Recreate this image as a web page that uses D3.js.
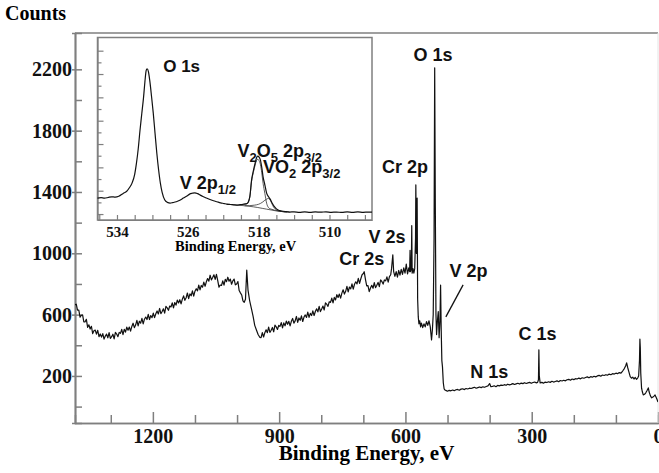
<!DOCTYPE html>
<html>
<head>
<meta charset="utf-8">
<script src="https://cdn.jsdelivr.net/npm/d3@7"></script>
<style>
  body { margin: 0; background: #fff; }
</style>
</head>
<body>
<div id="chart"></div>
<script>
// survey spectrum: [binding energy (eV), counts]
var survey = [
  [1385,665],[1382,668],[1379,629],[1376,630],[1373,583],[1370,596],[1367,598],[1364,552],[1361,553],[1358,569],
  [1355,517],[1352,533],[1349,506],[1346,524],[1343,476],[1340,495],[1337,499],[1334,473],[1331,498],[1328,456],
  [1325,474],[1322,453],[1319,476],[1316,440],[1313,460],[1310,473],[1307,449],[1304,482],[1301,445],[1298,456],
  [1295,472],[1292,442],[1289,484],[1286,473],[1283,456],[1280,484],[1277,478],[1274,504],[1271,470],[1268,504],
  [1265,486],[1262,518],[1259,498],[1256,519],[1253,492],[1250,523],[1247,544],[1244,515],[1241,532],[1238,563],
  [1235,526],[1232,557],[1229,544],[1226,575],[1223,540],[1220,570],[1217,584],[1214,568],[1211,602],[1208,568],
  [1205,594],[1202,580],[1199,610],[1196,580],[1193,606],[1190,624],[1187,604],[1184,640],[1181,606],[1178,620],
  [1175,638],[1172,610],[1169,654],[1166,644],[1163,628],[1160,656],[1157,650],[1154,677],[1151,644],[1148,679],
  [1145,662],[1142,695],[1139,676],[1136,697],[1133,670],[1130,701],[1127,722],[1124,693],[1121,710],[1118,741],
  [1115,704],[1112,735],[1109,723],[1106,755],[1103,721],[1100,753],[1097,769],[1094,755],[1091,792],[1088,761],
  [1085,790],[1082,779],[1079,812],[1076,785],[1073,814],[1070,835],[1067,818],[1064,857],[1061,826],[1058,842],
  [1055,860],[1052,830],[1049,863],[1046,824],[1043,779],[1040,793],[1037,790],[1034,820],[1031,792],[1028,830],
  [1025,815],[1022,844],[1019,818],[1016,832],[1013,798],[1010,820],[1007,832],[1004,794],[1001,800],[998,816],
  [995,757],[992,742],[989,728],[986,690],[983,680],[980,700],[977,890],[974,760],[970,690],[966,640],
  [962,590],[958,530],[954,500],[950,470],[946,452],[943,450],[940,482],[937,454],[934,482],[931,501],
  [928,482],[925,518],[922,484],[919,498],[916,516],[913,488],[910,531],[907,520],[904,503],[901,530],
  [898,523],[895,548],[892,513],[889,546],[886,527],[883,558],[880,537],[877,556],[874,527],[871,556],
  [868,575],[865,544],[862,559],[859,588],[856,549],[853,578],[850,563],[847,592],[844,555],[841,584],
  [838,598],[835,582],[832,616],[829,582],[826,608],[823,594],[820,624],[817,594],[814,620],[811,638],
  [808,618],[805,654],[802,620],[799,636],[796,656],[793,630],[790,676],[787,668],[784,654],[781,684],
  [778,680],[775,708],[772,676],[769,712],[766,696],[763,730],[760,712],[757,734],[754,708],[751,740],
  [748,762],[745,734],[742,752],[739,784],[736,748],[733,780],[730,768],[727,800],[724,766],[721,798],
  [718,814],[715,800],[712,836],[709,804],[706,834],[703,860],[700,868],[698,880],[695,830],[692,788],
  [689,789],[686,750],[683,774],[680,791],[677,772],[674,809],[671,776],[668,791],[665,810],[662,783],
  [659,826],[656,816],[653,799],[650,826],[647,820],[644,846],[641,812],[638,848],[635,860],[633,900],
  [630,990],[628,880],[625,850],[622,880],[619,845],[616,888],[613,858],[610,895],[607,862],[604,905],
  [601,870],[598,930],[595,865],[592,905],[590,880],[589,1020],[588,880],[586,900],[585,1180],[584,870],
  [582,900],[580,870],[578,900],[576,1100],[575.3,1446],[574,1000],[572.2,1360],[571,700],[569.5,585],[568,540],
  [566,560],[564,520],[562,545],[559,515],[556,540],[553,520],[550,555],[547,530],[544,560],[541,520],
  [538,435],[536,500],[534,600],[532,1100],[530.5,2210],[529,1300],[527.5,600],[526,470],[524,560],[522,620],
  [520,450],[518,560],[516.5,793],[515,500],[513.5,300],[512,259],[510,154],[508,115],[506,108],[503,104],
  [500,100],[496,106],[492,103],[488,108],[484,104],[480,110],[476,112],[472,107],[468,114],[464,116],
  [460,111],[456,118],[452,115],[448,120],[444,118],[440,122],[436,126],[432,120],[428,124],[424,128],
  [420,124],[416,129],[412,126],[408,131],[404,135],[400,150],[397,130],[393,132],[389,136],[385,130],
  [381,138],[377,135],[373,140],[369,138],[365,143],[361,139],[357,146],[353,142],[349,145],[345,150],
  [341,144],[337,148],[333,152],[329,147],[325,153],[321,150],[317,156],[313,151],[309,155],[305,158],
  [301,152],[297,157],[293,160],[289,155],[286,158],[284,175],[283,370],[282,200],[280,155],[276,158],
  [272,153],[268,160],[264,157],[260,162],[256,158],[252,165],[248,160],[244,164],[240,168],[236,162],
  [232,170],[228,167],[224,172],[220,168],[216,175],[212,178],[208,172],[204,180],[200,176],[196,182],
  [192,180],[188,186],[184,181],[180,188],[176,185],[172,190],[168,194],[164,188],[160,195],[156,192],
  [152,198],[148,194],[144,200],[140,204],[136,198],[132,206],[128,203],[124,208],[120,205],[116,212],
  [112,208],[108,215],[104,212],[100,218],[96,215],[92,222],[88,218],[84,232],[80,248],[77,265],
  [74.5,285],[72,255],[69,225],[66,195],[63,185],[60,192],[57,180],[54,190],[51,178],[48,188],
  [46,200],[44,300],[43,440],[42,380],[41,220],[39,120],[37,95],[35,76],[32,80],[29,90],
  [26,105],[23,122],[21,95],[18,70],[15,57],[12,62],[9,70],[7,76],[4,58],[2,45],[0,30]
];

// inset: O 1s / V 2p region (arbitrary intensity units)
var insetEnvelope = [
  [536.2,137],[535.8,140],[535.4,136],[535.0,142],[534.6,148],[534.2,145],[533.8,152],[533.3,177],[532.9,195],[532.6,225],
  [532.3,265],[532.0,340],[531.8,436],[531.6,560],[531.4,718],[531.2,860],[531.0,1000],[530.85,1130],[530.7,1231],[530.6,1245],
  [530.45,1220],[530.3,1145],[530.1,1010],[529.9,863],[529.7,690],[529.5,521],[529.3,380],[529.1,265],[528.9,185],[528.6,120],
  [528.3,100],[528.0,94],[527.7,98],[527.3,105],[526.9,118],[526.5,137],[526.1,155],[525.8,171],[525.5,178],[525.2,182],
  [524.9,175],[524.6,162],[524.3,150],[523.9,137],[523.5,125],[523.1,114],[522.7,105],[522.3,96],[521.9,90],[521.6,85],
  [521.2,82],[520.8,79],[520.5,77],[520.1,80],[519.7,84],[519.3,91],[519.0,150],[518.8,291],[518.6,370],[518.4,436],
  [518.25,480],[518.1,496],[517.95,488],[517.8,462],[517.65,400],[517.5,319],[517.3,250],[517.1,179],[516.9,150],[516.7,128],
  [516.5,97],[516.2,62],[515.8,34],[515.4,26],[515.0,21],[514.5,17],[514.0,19],[513.4,15],[512.8,18],[512.2,14],
  [511.6,18],[511.0,16],[510.4,19],[509.8,15],[509.2,17],[508.6,14],[508.0,18],[507.4,15],[506.8,19],[506.2,15],
  [505.6,17],[505.2,16]
];
var insetV2O5 = [
  [520.1,80],[519.6,86],[519.3,89],[519.0,144],[518.8,281],[518.6,357],[518.4,418],[518.25,458],[518.1,470],[517.95,456],
  [517.8,424],[517.65,354],[517.5,263],[517.3,177],[517.1,93],[516.9,56],[516.7,45],[516.5,40],[516.2,33],[515.8,27],
  [515.4,22],[515.0,19]
];
var insetVO2 = [
  [519.6,71],[519.0,72],[518.5,76],[518.0,84],[517.6,100],[517.3,118],[517.1,128],[516.9,134],[516.7,120],[516.5,88],
  [516.3,58],[516.0,36],[515.6,25],[515.2,20],[514.8,17]
];
var insetBackground = [
  [521.6,85],[520.8,79],[520.1,75],[519.6,71],[519.1,67],[518.6,62],[518.1,56],[517.6,49],[517.1,42],[516.6,35],
  [516.1,28],[515.6,23],[515.0,19],[514.5,17]
];

// tick values
var countTicks = [200, 600, 1000, 1400, 1800, 2200];
var countMinorTicks = [0, 400, 800, 1200, 1600, 2000];
var energyTicks = [1200, 900, 600, 300, 0];
var energyMinorTicks = [1300, 1100, 1000, 800, 700, 500, 400, 200, 100];
var insetEnergyLabels = [534, 526, 518, 510];
var insetEnergyTicks = [536, 534, 532, 530, 528, 526, 524, 522, 520, 518, 516, 514, 512, 510, 508, 506];
var insetIntensityTicks = [0, 100, 200, 300, 400, 500, 600, 700, 800, 900, 1000, 1100, 1200, 1300, 1400];

// peak labels: [text, energy, counts]
var surveyLabels = [
  ["O 1s", 534.6, 2255],
  ["Cr 2p", 601, 1524],
  ["V 2s", 644, 1068],
  ["Cr 2s", 704, 924],
  ["V 2p", 450, 846],
  ["N 1s", 401, 187],
  ["C 1s", 286, 435]
];
var v2pArrow = [[463, 794], [504, 585]];

var svgWidth = 659;
var svgHeight = 473;

var margin = { top: 33, right: 1, bottom: 50, left: 75 };
var width = svgWidth - margin.left - margin.right;
var height = svgHeight - margin.top - margin.bottom;

var axisColor = "#7f7f7f";
var serif = "'Liberation Serif', 'Times New Roman', serif";
var sans = "'Liberation Sans', Arial, sans-serif";

var svg = d3.select("#chart")
    .append("svg")
    .attr("width", svgWidth)
    .attr("height", svgHeight);

var chartGroup = svg.append("g")
    .attr("transform", `translate(${margin.left}, ${margin.top})`);

// scales
var xScale = d3.scaleLinear().domain([1385, 0]).range([0, width]);
var yScale = d3.scaleLinear().domain([-107, 2437]).range([height, 0]);

chartGroup.append("clipPath").attr("id", "plotClip")
    .append("rect").attr("width", width).attr("height", height);

function styleTicks(sel, size) {
    sel.selectAll("text")
        .style("font-family", serif)
        .style("font-weight", "bold")
        .style("font-size", size)
        .attr("fill", "#111");
}

// axes
var leftAxis = chartGroup.append("g")
    .call(d3.axisLeft(yScale).tickValues(countTicks).tickFormat(d3.format("d"))
        .tickSizeInner(-7).tickSizeOuter(0).tickPadding(3));
styleTicks(leftAxis, "20px");
chartGroup.append("g")
    .call(d3.axisLeft(yScale).tickValues(countTicks).tickSize(3).tickFormat(""));
chartGroup.append("g")
    .call(d3.axisLeft(yScale).tickValues(countMinorTicks).tickSize(-7).tickFormat(""));

var bottomAxis = chartGroup.append("g")
    .attr("transform", `translate(0, ${height})`)
    .call(d3.axisBottom(xScale).tickValues(energyTicks).tickFormat(d3.format("d"))
        .tickSizeInner(-11).tickSizeOuter(0).tickPadding(6));
styleTicks(bottomAxis, "20px");
chartGroup.append("g")
    .attr("transform", `translate(0, ${height})`)
    .call(d3.axisBottom(xScale).tickValues(energyMinorTicks).tickSize(-8).tickFormat(""));

chartGroup.selectAll(".domain, .tick line")
    .attr("stroke", axisColor)
    .attr("stroke-width", 1.5);

// top frame
chartGroup.append("line")
    .attr("x1", 0).attr("x2", width).attr("y1", 0).attr("y2", 0)
    .attr("stroke", axisColor).attr("stroke-width", 1.5);
chartGroup.append("line")
    .attr("x1", width).attr("x2", width).attr("y1", 0).attr("y2", height)
    .attr("stroke", "#e4e4e4").attr("stroke-width", 1);

// survey line
var surveyLine = d3.line()
    .x(d => xScale(d[0]))
    .y(d => yScale(d[1]));

chartGroup.append("path")
    .datum(survey)
    .attr("clip-path", "url(#plotClip)")
    .attr("d", surveyLine)
    .attr("fill", "none")
    .attr("stroke", "#111")
    .attr("stroke-width", 1.2)
    .attr("stroke-linejoin", "round");

// peak labels
chartGroup.selectAll(".surveyLabel")
    .data(surveyLabels)
    .enter()
    .append("text")
    .attr("x", d => xScale(d[1]))
    .attr("y", d => yScale(d[2]))
    .attr("text-anchor", "middle")
    .style("font-family", sans)
    .style("font-weight", "bold")
    .style("font-size", "18px")
    .attr("fill", "#111")
    .text(d => d[0]);

chartGroup.append("line")
    .attr("x1", xScale(v2pArrow[0][0])).attr("y1", yScale(v2pArrow[0][1]))
    .attr("x2", xScale(v2pArrow[1][0])).attr("y2", yScale(v2pArrow[1][1]))
    .attr("stroke", "#111").attr("stroke-width", 1.3);

// axis titles
svg.append("text")
    .attr("x", 5).attr("y", 20)
    .style("font-family", serif).style("font-weight", "bold").style("font-size", "20px")
    .text("Counts");

chartGroup.append("text")
    .attr("x", width / 2).attr("y", height + 37)
    .attr("text-anchor", "middle")
    .style("font-family", serif).style("font-weight", "bold").style("font-size", "21px")
    .text("Binding Energy, eV");

// ---- inset ----
var inset = { left: 97.5, top: 37.5, width: 274.5, height: 182.5 };
var insetGroup = svg.append("g")
    .attr("transform", `translate(${inset.left}, ${inset.top})`);

var ixScale = d3.scaleLinear().domain([536.2, 505.2]).range([0, inset.width]);
var iyScale = d3.scaleLinear().domain([-51, 1513]).range([inset.height, 0]);

insetGroup.append("rect")
    .attr("width", inset.width).attr("height", inset.height)
    .attr("fill", "#fff");

var insetBottom = insetGroup.append("g")
    .attr("transform", `translate(0, ${inset.height})`)
    .call(d3.axisBottom(ixScale).tickValues(insetEnergyTicks).tickSizeInner(-5).tickSizeOuter(0).tickPadding(6)
        .tickFormat(d => insetEnergyLabels.indexOf(d) >= 0 ? d : ""));
styleTicks(insetBottom, "15px");

insetGroup.append("g")
    .call(d3.axisLeft(iyScale).tickValues(insetIntensityTicks).tickSizeOuter(0).tickFormat(""))
    .selectAll(".tick line")
    .attr("x2", (d, i) => i % 2 === 0 ? 6 : 4);

insetGroup.selectAll(".domain, .tick line")
    .attr("stroke", axisColor)
    .attr("stroke-width", 1.2);

insetGroup.append("rect")
    .attr("width", inset.width).attr("height", inset.height)
    .attr("fill", "none")
    .attr("stroke", axisColor)
    .attr("stroke-width", 1.5);

var insetLine = d3.line()
    .x(d => ixScale(d[0]))
    .y(d => iyScale(d[1]))
    .curve(d3.curveMonotoneX);

[insetBackground, insetVO2, insetV2O5].forEach(function(series) {
    insetGroup.append("path")
        .datum(series)
        .attr("d", insetLine)
        .attr("fill", "none")
        .attr("stroke", "#333")
        .attr("stroke-width", 0.8);
});

insetGroup.append("path")
    .datum(insetEnvelope)
    .attr("d", insetLine)
    .attr("fill", "none")
    .attr("stroke", "#111")
    .attr("stroke-width", 1.2);

// inset labels
insetGroup.append("text")
    .attr("x", ixScale(526.7)).attr("y", iyScale(1214))
    .attr("text-anchor", "middle")
    .style("font-family", sans).style("font-weight", "bold").style("font-size", "17px")
    .attr("fill", "#111")
    .text("O 1s");

function subLabel(parts, e, v) {
    var t = insetGroup.append("text")
        .attr("x", ixScale(e)).attr("y", iyScale(v))
        .style("font-family", sans).style("font-weight", "bold")
        .attr("fill", "#111");
    var shift = 0;
    parts.forEach(function(p) {
        var s = p[1] ? 5 : 0;
        t.append("tspan")
            .attr("dy", s - shift)
            .style("font-size", p[1] ? "13px" : "18px")
            .text(p[0]);
        shift = s;
    });
}

subLabel([["V 2p", false], ["1/2", true]], 526.9, 214);
subLabel([["V", false], ["2", true], ["O", false], ["5", true], [" 2p", false], ["3/2", true]], 520.4, 487);
subLabel([["VO", false], ["2", true], [" 2p", false], ["3/2", true]], 517.5, 350);

insetGroup.append("text")
    .attr("x", ixScale(520.6)).attr("y", inset.height + 31)
    .attr("text-anchor", "middle")
    .style("font-family", serif).style("font-weight", "bold").style("font-size", "14.5px")
    .text("Binding Energy, eV");
</script>
</body>
</html>
